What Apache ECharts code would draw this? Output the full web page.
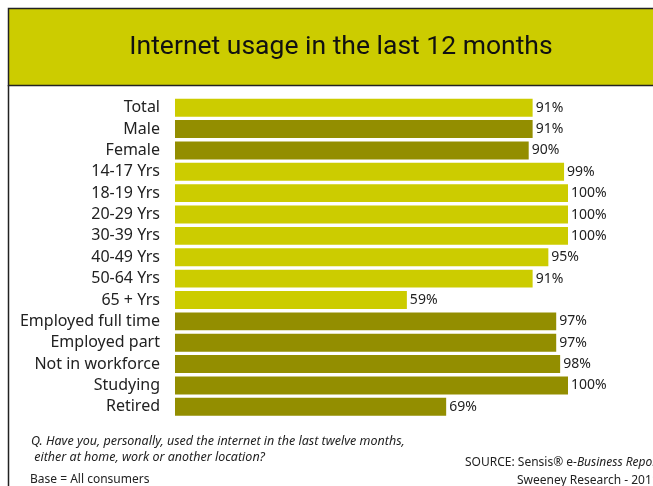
<!DOCTYPE html>
<html><head><meta charset="utf-8">
<script src="https://cdn.jsdelivr.net/npm/echarts@6/dist/echarts.min.js"></script>
<style>html,body{margin:0;padding:0;background:#fff}#c{width:653px;height:486px}</style>
</head><body><div id="c"></div>
<script>
const categories = ["Total","Male","Female","14-17 Yrs","18-19 Yrs","20-29 Yrs","30-39 Yrs","40-49 Yrs","50-64 Yrs","65 + Yrs","Employed full time","Employed part","Not in workforce","Studying","Retired"];
const values = [91,91,90,99,100,100,100,95,91,59,97,97,98,100,69];
const groups = ["light","dark","dark","light","light","light","light","light","light","light","dark","dark","dark","dark","dark"];
const colors = {light:"#cccc00", dark:"#938e00"};
const titleText = "Internet usage in the last 12 months";

const chart = echarts.init(document.getElementById('c'), null, {renderer:'canvas'});
chart.setOption({
  animation:false,
  backgroundColor:'#fff',
  title:{text:titleText,left:336,top:29,textAlign:'center',
    textStyle:{fontFamily:'Roboto, sans-serif',fontSize:26.5,fontWeight:'normal',color:'#111'}},
  graphic:[
    {type:'rect',shape:{x:8.5,y:8.5,width:660,height:77},style:{fill:'#cccc00',stroke:'#222',lineWidth:1.5},z:-1},
    {type:'line',shape:{x1:8.5,y1:85,x2:8.5,y2:486},style:{stroke:'#222',lineWidth:1.5}},
    {type:'text',left:31,top:433,style:{text:'Q. Have you, personally, used the internet in the last twelve months,\n either at home, work or another location?',font:'italic 12.5px "Noto Sans", sans-serif',fill:'#222',lineHeight:16.5}},
    {type:'text',left:30,top:474,style:{text:'Base = All consumers',font:'12px "Noto Sans", sans-serif',fill:'#222'}},
    {type:'text',left:465,top:457,style:{rich:{a:{font:'12px "Noto Sans", sans-serif',fill:'#222'},b:{font:'italic 12px "Noto Sans", sans-serif',fill:'#222'}},text:'{a|SOURCE: Sensis® e-}{b|Business Report}'}},
    {type:'text',left:517,top:475,style:{text:'Sweeney Research - 2011',font:'12px "Noto Sans", sans-serif',fill:'#222'}}
  ],
  grid:{left:175,right:85,top:97,height:320.5,containLabel:false},
  xAxis:{type:'value',min:0,max:100,show:false},
  yAxis:{type:'category',data:categories,inverse:true,
    axisLine:{show:false},axisTick:{show:false},splitLine:{show:false},
    axisLabel:{margin:15,color:'#222',fontSize:16,fontFamily:'Noto Sans, sans-serif'}},
  series:[{type:'bar',barCategoryGap:'16%',
    data:values.map((v,i)=>({value:v,itemStyle:{color:colors[groups[i]]}})),
    label:{show:true,position:'right',distance:3,formatter:'{c}%',color:'#222',fontSize:14,fontFamily:'Noto Sans, sans-serif'}}]
});
</script></body></html>
